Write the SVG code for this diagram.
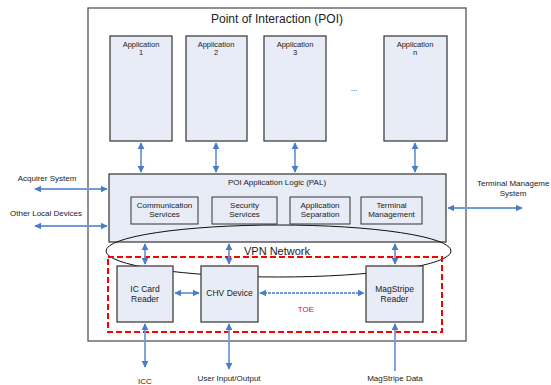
<svg xmlns="http://www.w3.org/2000/svg" width="551" height="385" viewBox="0 0 551 385">
<defs>
<marker id="ah" viewBox="0 0 10 10" refX="9" refY="5" markerWidth="4" markerHeight="4" orient="auto-start-reverse" markerUnits="strokeWidth">
<path d="M0,0 L10,5 L0,10 z" fill="#4a7cc9"/>
</marker>
<style>
text{font-family:"Liberation Sans",Arial,sans-serif;fill:#222}
.box{fill:#e7ecf6;stroke:#333;stroke-width:1.2}
.sub{fill:#e7ecf6;stroke:#333;stroke-width:1}
.s{font-size:7.5px;text-anchor:middle}
.m{font-size:8px;text-anchor:middle}
.l{font-size:8.5px;text-anchor:middle}
.c{stroke:#6f9bd8;stroke-width:1.8;fill:none;marker-start:url(#ah);marker-end:url(#ah)}
.c1{stroke:#6f9bd8;stroke-width:1.8;fill:none;marker-end:url(#ah)}
</style>
</defs>
<rect id="poi" x="88" y="8" width="378" height="333" fill="#fff" stroke="#555" stroke-width="1.3"/>
<text x="277" y="23" font-size="12" text-anchor="middle">Point of Interaction (POI)</text>
<g id="app1"><rect class="box" x="110" y="36" width="62" height="105"/><text class="s" x="141" y="47">Application</text><text class="s" x="141" y="55">1</text></g>
<g id="app2"><rect class="box" x="186" y="36" width="61" height="105"/><text class="s" x="216" y="47">Application</text><text class="s" x="216" y="55">2</text></g>
<g id="app3"><rect class="box" x="264" y="36" width="62" height="105"/><text class="s" x="295" y="47">Application</text><text class="s" x="295" y="55">3</text></g>
<text class="m" x="354" y="91">...</text>
<g id="appn"><rect class="box" x="384" y="36" width="63" height="105"/><text class="s" x="415" y="47">Application</text><text class="s" x="415" y="55">n</text></g>
<g id="pal"><rect class="box" x="109" y="174" width="337" height="68"/><text class="m" x="277" y="185">POI Application Logic (PAL)</text></g>
<g id="comm"><rect class="sub" x="131" y="197" width="67" height="27"/><text class="m" x="164.5" y="208">Communication</text><text class="m" x="164.5" y="217">Services</text></g>
<g id="sec"><rect class="sub" x="212" y="197" width="65" height="27"/><text class="m" x="244.5" y="208">Security</text><text class="m" x="244.5" y="217">Services</text></g>
<g id="sep"><rect class="sub" x="290" y="197" width="60" height="27"/><text class="m" x="320" y="208">Application</text><text class="m" x="320" y="217">Separation</text></g>
<g id="tm"><rect class="sub" x="361" y="197" width="61" height="27"/><text class="m" x="391.5" y="208">Terminal</text><text class="m" x="391.5" y="217">Management</text></g>
<g id="vpn"><ellipse cx="278.5" cy="251" rx="172.5" ry="26" fill="none" stroke="#111" stroke-width="1"/><text x="277" y="255" font-size="11" text-anchor="middle">VPN Network</text></g>
<g id="ic"><rect class="box" x="117" y="266" width="56" height="56"/><text class="l" x="145" y="292">IC Card</text><text class="l" x="145" y="302">Reader</text></g>
<g id="chv"><rect class="box" x="201" y="266" width="57" height="56"/><text class="l" x="229.5" y="296">CHV Device</text></g>
<g id="msr"><rect class="box" x="366" y="266" width="57" height="56"/><text class="l" x="394.5" y="292">MagStripe</text><text class="l" x="394.5" y="302">Reader</text></g>
<g id="toe"><rect x="108" y="257" width="334" height="75" fill="none" stroke="#f00" stroke-width="2" stroke-dasharray="6,3"/><text x="306" y="312" font-size="8" style="fill:#f00" text-anchor="middle">TOE</text></g>
<g id="connectors">
<line class="c" x1="141" y1="143" x2="141" y2="172"/>
<line class="c" x1="216" y1="143" x2="216" y2="172"/>
<line class="c" x1="295" y1="143" x2="295" y2="172"/>
<line class="c" x1="415" y1="143" x2="415" y2="172"/>
<line class="c" x1="145" y1="244" x2="145" y2="264"/>
<line class="c" x1="229" y1="244" x2="229" y2="264"/>
<line class="c" x1="395" y1="244" x2="395" y2="264"/>
<line class="c" x1="175" y1="293" x2="199" y2="293"/>
<line class="c" x1="260" y1="293" x2="364" y2="293" stroke-dasharray="3,1"/>
<line class="c" x1="145" y1="324" x2="145" y2="367"/>
<line class="c" x1="229" y1="324" x2="229" y2="369"/>
<line class="c1" x1="395" y1="371" x2="395" y2="324"/>
<line class="c" x1="35" y1="189" x2="107" y2="189"/>
<line class="c" x1="35" y1="226" x2="107" y2="226"/>
<line class="c" x1="448" y1="208" x2="522" y2="208"/>
</g>
<text class="m" x="47" y="181">Acquirer System</text>
<text class="m" x="46" y="216">Other Local Devices</text>
<text class="m" x="477" y="186" style="text-anchor:start">Terminal Manageme</text>
<text class="m" x="513" y="196">System</text>
<text class="m" x="145" y="384">ICC</text>
<text class="m" x="229" y="381">User Input/Output</text>
<text class="m" x="395" y="381">MagStripe Data</text>
</svg>
